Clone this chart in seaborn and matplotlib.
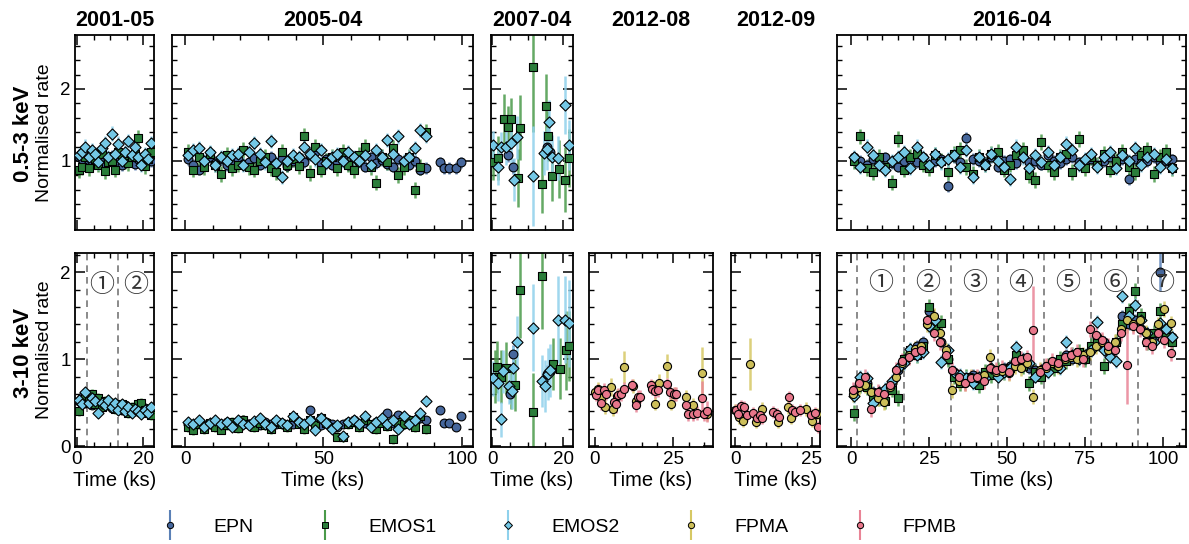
import numpy as np
import matplotlib
matplotlib.use("Agg")
import matplotlib.pyplot as plt
from matplotlib.ticker import FixedLocator, MultipleLocator, NullFormatter
from matplotlib.container import ErrorbarContainer
from matplotlib.legend_handler import HandlerErrorbar
import seaborn as sns

# ---------------- DATA ----------------
EPOCHS = ["2001-05", "2005-04", "2007-04", "2012-08", "2012-09", "2016-04"]
INSTRUMENTS = ["EPN", "EMOS1", "EMOS2", "FPMA", "FPMB"]

# 2001-05
T01 = [0.5,1.5,2.5,3.5,4.5,5.5,6.5,7.5,8.5,9.5,10.5,11.5,12.5,13.5,14.5,15.5,16.5,17.5,18.5,19.5,20.5,21.5,22.5]
PN01_soft = [1.05,1.02,1.08,1.0,0.98,1.04,1.06,1.0,0.95,1.03,1.07,1.02,0.98,0.94,1.05,1.08,1.0,0.96,1.02,1.04,0.98,1.03,1.0]
M101_soft = [0.87,0.92,1.05,0.9,1.08,1.02,0.95,1.1,0.86,0.98,1.0,0.88,1.12,1.04,1.0,0.97,1.06,1.1,1.32,1.0,0.93,1.02,1.12]
M201_soft = [1.08,1.12,1.2,1.05,1.15,1.1,0.98,1.18,1.25,1.05,1.38,1.1,1.24,1.0,1.12,1.28,1.08,1.2,1.05,0.95,1.1,1.02,1.25]
PN01_hard = [0.52,0.56,0.5,0.54,0.47,0.51,0.49,0.45,0.5,0.47,0.44,0.48,0.45,0.42,0.47,0.44,0.41,0.45,0.43,0.4,0.44,0.41,0.43]
M101_hard = [0.4,0.5,0.58,0.52,0.6,0.48,0.55,0.45,0.52,0.47,0.5,0.43,0.46,0.49,0.42,0.38,0.45,0.4,0.48,0.5,0.42,0.38,0.36]
M201_hard = [0.53,0.48,0.62,0.5,0.55,0.52,0.38,0.5,0.47,0.53,0.45,0.5,0.42,0.48,0.4,0.45,0.38,0.43,0.4,0.37,0.42,0.38,0.45]

# 2005-04
T05 = [1,3,5,7,9,11,13,15,17,19,21,23,25,27,29,31,33,35,37,39,41,43,45,47,49,51,53,55,57,59,61,63,65,67,69,71,73,75,77,79,81,83,85,87]
PN05_soft = [1.02,0.95,0.88,1.0,1.05,0.97,1.02,0.94,1.0,1.03, 0.96,0.99,1.04,0.95,1.0,1.06,0.97,1.02,0.93,1.0,
             1.05,0.98,1.08,1.12,0.97,1.03,0.95,1.0,1.02,0.94, 1.04,0.99,0.92,1.05,0.97,1.01,0.96,0.92,1.03,0.98,
             0.95,1.0,0.88,0.9]
M105_soft = [1.12,0.88,1.05,0.92,1.1,0.95,0.82,1.08,0.9,0.95, 1.15,0.92,0.88,1.0,1.05,0.9,0.85,1.12,0.95,1.02,
             0.93,1.35,0.83,1.2,0.88,1.0,1.05,0.9,1.12,0.95, 0.87,1.08,1.2,0.92,0.7,1.05,0.98,1.18,0.8,0.92,
             1.05,0.6,0.92,1.4]
M205_soft = [1.08,1.15,1.18,1.0,1.12,0.95,1.05,1.0,1.08,1.1, 0.95,1.12,1.25,1.1,0.98,1.28,0.97,0.78,1.0,1.08,
             1.05,1.2,1.1,1.02,1.15,0.97,1.05,1.1,1.0,1.12, 1.05,1.0,1.08,0.95,1.15,1.05,1.29,1.1,1.34,1.0,
             1.05,1.18,1.43,1.35]
PN05_hard = [0.25,0.22,0.27,0.24,0.26,0.23,0.25,0.28,0.24,0.26, 0.3,0.25,0.27,0.24,0.28,0.26,0.25,0.27,0.24,0.26,
             0.28,0.25,0.41,0.27,0.24,0.28,0.26,0.22,0.25,0.28, 0.3,0.26,0.27,0.24,0.28,0.3,0.38,0.27,0.36,0.25,
             0.3,0.28,0.32,0.3]
M105_hard = [0.22,0.18,0.25,0.2,0.27,0.22,0.19,0.24,0.28,0.21, 0.3,0.25,0.22,0.27,0.24,0.2,0.28,0.25,0.22,0.33,
             0.26,0.2,0.3,0.24,0.32,0.27,0.22,0.11,0.1,0.25, 0.28,0.22,0.3,0.25,0.2,0.27,0.23,0.08,0.28,0.25,
             0.3,0.22,0.35,0.2]
M205_hard = [0.28,0.25,0.3,0.22,0.27,0.3,0.25,0.28,0.22,0.3, 0.26,0.24,0.29,0.32,0.26,0.22,0.3,0.27,0.24,0.35,
             0.28,0.25,0.3,0.18,0.32,0.27,0.2,0.24,0.12,0.28, 0.3,0.25,0.35,0.22,0.28,0.32,0.25,0.3,0.2,0.35,
             0.25,0.3,0.38,0.52]
T05_tail = [92, 93.5, 95.5, 98, 99.5]
PN05_tail_soft = [0.98, 0.9, 0.9, 0.9, 0.98]
PN05_tail_hard = [0.41, 0.27, 0.27, 0.22, 0.35]

# 2007-04
T07_PN_soft = [4.6, 6.0, 15.5, 16.4]
PN07_soft = [1.08, 0.92, 1.2, 1.12]
T07_M1_soft = [0.2,1.6,3.5,4.5,5.4,7.4,8.0,11.6,14.2,15.1,15.8,16.8,18.8,20.6,21.7]
M107_soft = [0.99,1.04,1.58,1.47,1.58,0.76,1.46,2.3,0.68,1.76,1.35,0.79,0.89,0.74,1.04]
E_M107_soft = [0.25,0.3,0.35,0.3,0.3,0.4,0.45,0.9,0.4,0.45,0.35,0.35,0.4,0.45,0.4]
T07_M2_soft = [0.4,1.8,2.6,3.9,5.2,6.2,7.1,11.6,14.5,15.4,16.0,16.8,18.7,20.6,21.8]
M207_soft = [1.22,0.92,1.2,1.2,1.25,0.74,1.33,0.79,1.11,1.17,1.54,1.06,1.04,1.78,1.22]
E_M207_soft = [0.2,0.25,0.2,0.25,0.3,0.3,0.3,0.7,0.3,0.3,0.3,0.3,0.3,0.4,0.35]
T07_PN_hard = [5.0, 5.9, 15.6, 16.5]
PN07_hard = [0.6, 1.06, 0.83, 0.88]
T07_M1_hard = [0.8,1.3,2.5,4.0,5.2,6.6,7.9,11.6,14.2,17.1,19.0,20.9,21.8]
M107_hard = [0.8,0.91,0.8,0.9,0.68,0.7,1.79,0.39,1.95,0.94,0.89,1.1,1.15]
E_M107_hard = [0.3,0.3,0.3,0.3,0.25,0.3,0.55,0.45,0.6,0.3,0.35,0.45,0.4]
T07_M2_hard = [0.4,1.8,2.5,3.2,4.9,5.5,5.9,7.0,11.6,14.2,14.9,15.8,16.3,18.7,20.5,21.8]
M207_hard = [0.78,0.72,0.31,0.86,0.69,0.63,0.9,1.2,1.36,0.75,0.69,0.83,0.87,1.45,1.45,1.41]
E_M207_hard = [0.2,0.2,0.2,0.25,0.2,0.2,0.25,0.3,0.5,0.3,0.3,0.3,0.3,0.5,0.5,0.5]

# 2012-08 (NuSTAR)
T12A = [0.0,1.0,1.8,3.1,5.3,5.9,7.0,9.2,12.3,13.2,18.6,19.1,20.4,23.0,24.3,25.5,29.2,31.3,34.2,35.8]
FPMA12 = [0.62,0.66,0.55,0.45,0.68,0.43,0.58,0.91,0.69,0.52,0.68,0.49,0.73,0.92,0.49,0.6,0.57,0.47,0.84,0.37]
E_FPMA12 = [0.07,0.08,0.07,0.08,0.1,0.08,0.08,0.18,0.08,0.08,0.08,0.08,0.1,0.14,0.08,0.08,0.08,0.08,0.3,0.08]
T12B = [0.2,1.1,2.1,2.9,3.6,6.0,6.6,7.4,8.5,9.2,12.0,13.2,13.8,14.3,17.8,18.4,19.2,20.2,23.1,24.0,25.3,26.1,29.3,29.9,31.3,32.6,34.2,35.0,36.0]
FPMB12 = [0.59,0.64,0.5,0.65,0.6,0.51,0.48,0.59,0.6,0.66,0.7,0.47,0.57,0.57,0.7,0.66,0.63,0.65,0.71,0.62,0.6,0.6,0.47,0.37,0.37,0.38,0.55,0.37,0.4]
E_FPMB12 = [0.07,0.07,0.08,0.08,0.07,0.08,0.1,0.08,0.08,0.08,0.07,0.08,0.08,0.07,0.07,0.07,0.08,0.08,0.07,0.08,0.08,0.08,0.08,0.08,0.08,0.08,0.2,0.08,0.12]

# 2012-09 (NuSTAR)
T09A = [0.1,1.3,2.7,4.8,6.8,8.9,14.0,17.2,18.1,23.2,24.9,26.5]
FPMA09 = [0.41,0.33,0.29,0.94,0.28,0.43,0.28,0.45,0.32,0.43,0.29,0.37]
E_FPMA09 = [0.07,0.07,0.07,0.3,0.07,0.08,0.07,0.08,0.07,0.08,0.07,0.07]
T09B = [0.3,1.1,2.0,2.8,3.8,5.9,7.0,8.1,8.8,12.4,13.5,14.3,17.5,18.6,19.5,21.1,24.7,26.0,26.8]
FPMB09 = [0.42,0.37,0.46,0.45,0.36,0.38,0.32,0.36,0.32,0.39,0.37,0.33,0.56,0.41,0.39,0.42,0.36,0.38,0.22]

# 2016-04
T16 = [1,3,5,7,9,11,13,15,17,19,21,23,25,27,29,31,33,35,37,39,41,43,45,47,49,51,
       53,55,57,59,61,63,65,67,69,71,73,75,77,79,81,83,85,87,89,91,93,95,97,99,101,103]
T16_NU = [0.5,2.5,4.5,6.5,8.5,10.5,12.5,14.5,16.5,18.5,20.5,22.5,24.5,26.5,28.5,30.5,32.5,34.5,36.5,38.5,
          40.5,42.5,44.5,46.5,48.5,50.5,52.5,54.5,56.5,58.5,60.5,62.5,64.5,66.5,68.5,70.5,72.5,74.5,76.5,78.5,
          80.5,82.5,84.5,86.5,88.5,90.5,92.5,94.5,96.5,98.5,100.5,102.5]
PN16_soft = [1.05,1.0,0.95,1.02,0.98,1.05,0.97,0.92,1.0,1.03, 0.98,1.05,0.95,1.0,1.02,0.65,1.05,0.98,1.32,1.03,
             1.0,0.97,1.05,0.92,1.0,1.02,0.97,1.05,0.98,1.0, 0.95,1.08,1.0,0.97,1.03,1.05,0.98,1.0,1.02,0.95,
             1.0,1.05,0.98,1.02,0.75,1.02,0.97,1.0,1.05,0.98, 1.0,1.02]
M116_soft = [1.0,1.34,0.9,0.85,1.05,0.92,0.7,1.3,0.88,1.05, 1.1,0.95,0.9,1.08,1.0,0.85,1.1,1.15,0.92,0.82,
             1.05,0.95,1.1,1.12,0.88,0.95,1.08,1.15,0.8,0.73, 1.26,0.95,0.85,1.05,1.1,0.85,1.3,0.9,1.05,0.95,
             1.1,0.88,1.0,1.12,0.92,0.85,1.08,1.15,0.82,1.05, 1.12,0.9]
M216_soft = [1.05,0.92,1.2,1.08,0.95,0.88,1.0,1.05,1.12,0.9, 1.2,1.05,0.95,1.1,0.98,1.02,1.08,0.92,1.15,0.78,
             1.05,0.95,1.1,1.0,0.92,0.75,1.2,1.05,0.9,1.08, 0.98,1.12,0.95,1.05,1.24,1.15,0.95,1.02,1.1,0.92,
             1.05,1.12,0.9,1.08,1.0,1.18,0.95,1.05,1.1,0.92, 1.02,0.9]
PN16_hard = [0.65,0.75,0.72,0.62,0.58,0.63,0.72,0.88,1.0,1.05, 1.15,1.2,1.55,1.35,1.2,1.0,0.85,0.8,0.78,0.82,
             0.75,0.82,0.88,0.85,0.9,0.92,1.0,0.95,0.9,0.88, 0.82,0.9,0.95,0.98,1.05,1.0,1.05,1.0,1.1,1.25,
             1.2,1.05,1.2,1.5,1.4,1.45,1.35,1.3,1.25,2.0, 1.3,1.25]
M116_hard = [0.38,0.7,0.68,0.58,0.55,0.52,0.65,0.55,1.0,1.1, 1.05,1.15,1.6,1.38,1.42,1.0,0.8,0.72,0.8,0.75,
             0.7,0.85,0.82,0.88,0.85,0.9,1.05,0.92,0.72,0.85, 0.8,0.92,0.9,1.0,0.98,1.05,1.08,1.0,1.15,1.18,
             0.92,1.1,1.2,1.4,1.55,1.78,1.5,1.2,1.3,1.55, 1.25,1.2]
M216_hard = [0.58,0.8,0.78,0.5,0.62,0.66,0.75,0.9,0.95,1.12, 1.05,1.08,1.38,1.45,0.97,1.1,0.85,0.82,0.78,0.72,
             0.8,0.78,0.9,0.8,0.85,0.9,1.14,1.0,0.95,0.8, 0.88,0.85,0.95,0.9,1.2,1.05,1.0,1.05,1.1,1.43,
             1.1,1.03,0.98,1.72,1.5,1.62,1.45,1.3,1.2,1.41, 1.35,1.25]
FPMA16 = [0.6,0.68,0.7,0.62,0.55,0.51,0.68,0.8,0.95,1.05, 1.12,1.15,1.4,1.5,1.3,1.1,0.64,0.75,0.72,0.8,
          0.78,0.82,1.03,0.85,0.86,0.84,0.92,0.9,0.95,0.57, 0.88,0.9,0.95,0.92,1.0,1.02,1.0,1.05,1.08,1.15,
          1.2,1.1,1.2,1.35,1.45,1.4,1.45,1.3,1.2,1.4, 1.58,1.41]
FPMB16 = [0.65,0.72,0.8,0.43,0.62,0.6,0.7,0.88,0.98,1.02, 1.08,1.1,1.45,1.3,1.2,1.05,0.88,0.8,0.72,0.78,
          0.8,0.75,0.9,0.88,0.9,0.85,0.98,1.0,1.02,1.34, 0.85,0.92,0.98,0.95,1.02,1.05,1.08,1.0,1.35,1.28,
          1.22,1.15,1.1,1.3,0.93,1.38,1.35,1.2,1.15,1.3, 1.22,1.07]

# typical 1-sigma errors per instrument and band, plus individual large ones
ERR_SOFT = {"EPN": 0.08, "EMOS1": 0.11, "EMOS2": 0.1}
ERR_HARD_XMM = {"EPN": 0.045, "EMOS1": 0.055, "EMOS2": 0.05}
ERR_2016_HARD = {"EPN": 0.07, "EMOS1": 0.09, "EMOS2": 0.08, "FPMA": 0.09, "FPMB": 0.09}
ERR_2016_BIG = {"EPN": {49: 0.22}, "FPMA": {44: 0.15}, "FPMB": {29: 0.5, 44: 0.45}}
ERR_FPMB09 = 0.07

PHASES_2001 = [3.0, 12.5]
PHASES_2016 = [2, 17, 32, 47, 62, 77, 92]
PHASE_LABELS_2001 = ["①", "②"]
PHASE_LABELS_2016 = ["①", "②", "③", "④", "⑤", "⑥", "⑦"]
PHASE_LABEL_X_2001 = [7.6, 17.6]
PHASE_LABEL_X_2016 = [9.5, 24.5, 39.5, 54.5, 69.5, 84.5, 99.5]

# ---------------- STYLE ----------------
sns.set_theme(style="ticks")
plt.rcParams["font.family"] = ["Liberation Sans", "DejaVu Sans"]
for k in ["text.color", "axes.labelcolor", "xtick.color", "ytick.color", "axes.edgecolor"]:
    plt.rcParams[k] = "black"

STYLE = {
    "EPN":   dict(marker="o", s=40, face="#46679c", ecolor="#5a80b6"),
    "EMOS1": dict(marker="s", s=36, face="#2a7d3a", ecolor="#4a9a4a"),
    "EMOS2": dict(marker="D", s=32, face="#74c8e6", ecolor="#8fd1ec"),
    "FPMA":  dict(marker="o", s=34, face="#cdbf5a", ecolor="#d6c864"),
    "FPMB":  dict(marker="o", s=34, face="#e8768a", ecolor="#e98496"),
}

W, H = 1189, 544
fig = plt.figure(figsize=(W / 100, H / 100), dpi=100)

COLS = [(75, 154), (172, 473), (491, 573), (589, 713), (731, 820), (837, 1186)]
ROW_TOP = (35, 230)
ROW_BOT = (253, 447)
XLIMS = [(-0.6, 23.3), (-4.7, 104), (-0.3, 22.8), (-1.9, 37.8), (-1.3, 27.6), (-4.5, 107.4)]
XMAJ = [[0, 20], [0, 50, 100], [0, 20], [0, 25], [0, 25], [0, 25, 50, 75, 100]]
XMIN = [5, 10, 5, 5, 5, 5]


def make_ax(col, row):
    l, r = COLS[col]
    t, b = ROW_TOP if row == 0 else ROW_BOT
    ax = fig.add_axes([l / W, 1 - b / H, (r - l) / W, (b - t) / H])
    ax.set_xlim(*XLIMS[col])
    if row == 0:
        ax.set_ylim(0.04, 2.75)
        ax.yaxis.set_major_locator(FixedLocator([1, 2]))
    else:
        ax.set_ylim(-0.01, 2.22)
        ax.yaxis.set_major_locator(FixedLocator([0, 1, 2]))
    ax.yaxis.set_minor_locator(MultipleLocator(0.2))
    ax.xaxis.set_major_locator(FixedLocator(XMAJ[col]))
    ax.xaxis.set_minor_locator(MultipleLocator(XMIN[col]))
    ax.tick_params(which="both", direction="in", top=True, right=True, labelsize=13.5, pad=3,
                   labelcolor="black")
    ax.tick_params(which="major", length=7, width=1.1, color="black")
    ax.tick_params(which="minor", length=3.5, width=1.0, color="black")
    for sp in ax.spines.values():
        sp.set_linewidth(1.3)
        sp.set_color("black")
    if col != 0:
        ax.yaxis.set_major_formatter(NullFormatter())
    if row == 0:
        ax.xaxis.set_major_formatter(NullFormatter())
    else:
        ax.set_xlabel("Time (ks)", fontsize=14.5, labelpad=2, color="black")
    ax.grid(False)
    return ax


def draw(ax, t, y, err, inst, big=None):
    st = STYLE[inst]
    e = np.full(len(y), float(err)) if np.isscalar(err) else np.asarray(err, float)
    if big:
        for k, v in big.items():
            e[k] = v
    ax.errorbar(t, y, yerr=e, fmt="none", ecolor=st["ecolor"], elinewidth=1.8,
                capsize=0, alpha=0.85, zorder=2)
    sns.scatterplot(x=np.asarray(t, float), y=np.asarray(y, float), ax=ax, marker=st["marker"],
                    s=st["s"], color=st["face"], edgecolor="black", linewidth=0.8,
                    zorder=3, legend=False)


def phases(ax, xs, labels, lx, ly):
    for x in xs:
        ax.axvline(x, color="#777777", lw=1.2, ls=(0, (4, 3)), zorder=1)
    for x, s in zip(lx, labels):
        ax.text(x, ly, s, ha="center", va="center", fontsize=18, color="#333333",
                family=["Noto Sans CJK JP", "DejaVu Sans"], zorder=4)


# top row
a = make_ax(0, 0)
draw(a, T01, PN01_soft, ERR_SOFT["EPN"], "EPN")
draw(a, T01, M101_soft, ERR_SOFT["EMOS1"], "EMOS1")
draw(a, T01, M201_soft, ERR_SOFT["EMOS2"], "EMOS2")
ax_first = a

a = make_ax(1, 0)
draw(a, T05 + T05_tail, PN05_soft + PN05_tail_soft, ERR_SOFT["EPN"], "EPN")
draw(a, T05, M105_soft, ERR_SOFT["EMOS1"], "EMOS1")
draw(a, T05, M205_soft, ERR_SOFT["EMOS2"], "EMOS2")

a = make_ax(2, 0)
draw(a, T07_PN_soft, PN07_soft, 0.1, "EPN")
draw(a, T07_M1_soft, M107_soft, E_M107_soft, "EMOS1")
draw(a, T07_M2_soft, M207_soft, E_M207_soft, "EMOS2")

a = make_ax(5, 0)
draw(a, T16, PN16_soft, ERR_SOFT["EPN"], "EPN")
draw(a, T16, M116_soft, ERR_SOFT["EMOS1"], "EMOS1")
draw(a, T16, M216_soft, ERR_SOFT["EMOS2"], "EMOS2")

# bottom row
a = make_ax(0, 1)
phases(a, PHASES_2001, PHASE_LABELS_2001, PHASE_LABEL_X_2001, 1.85)
draw(a, T01, PN01_hard, ERR_HARD_XMM["EPN"], "EPN")
draw(a, T01, M101_hard, ERR_HARD_XMM["EMOS1"], "EMOS1")
draw(a, T01, M201_hard, ERR_HARD_XMM["EMOS2"], "EMOS2")

a = make_ax(1, 1)
draw(a, T05 + T05_tail, PN05_hard + PN05_tail_hard, ERR_HARD_XMM["EPN"], "EPN")
draw(a, T05, M105_hard, ERR_HARD_XMM["EMOS1"], "EMOS1")
draw(a, T05, M205_hard, ERR_HARD_XMM["EMOS2"], "EMOS2")

a = make_ax(2, 1)
draw(a, T07_PN_hard, PN07_hard, 0.1, "EPN")
draw(a, T07_M1_hard, M107_hard, E_M107_hard, "EMOS1")
draw(a, T07_M2_hard, M207_hard, E_M207_hard, "EMOS2")

a = make_ax(3, 1)
draw(a, T12A, FPMA12, E_FPMA12, "FPMA")
draw(a, T12B, FPMB12, E_FPMB12, "FPMB")

a = make_ax(4, 1)
draw(a, T09A, FPMA09, E_FPMA09, "FPMA")
draw(a, T09B, FPMB09, ERR_FPMB09, "FPMB")

a = make_ax(5, 1)
phases(a, PHASES_2016, PHASE_LABELS_2016, PHASE_LABEL_X_2016, 1.87)
draw(a, T16, PN16_hard, ERR_2016_HARD["EPN"], "EPN", ERR_2016_BIG["EPN"])
draw(a, T16, M116_hard, ERR_2016_HARD["EMOS1"], "EMOS1")
draw(a, T16, M216_hard, ERR_2016_HARD["EMOS2"], "EMOS2")
draw(a, T16_NU, FPMA16, ERR_2016_HARD["FPMA"], "FPMA", ERR_2016_BIG["FPMA"])
draw(a, T16_NU, FPMB16, ERR_2016_HARD["FPMB"], "FPMB", ERR_2016_BIG["FPMB"])

# titles
for (l, r), name in zip(COLS, EPOCHS):
    fig.text((l + r) / 2 / W, 1 - 20 / H, name, ha="center", va="center",
             fontsize=15.5, fontweight="bold")

# row labels
fig.text(24 / W, 1 - 134 / H, "0.5-3 keV", rotation=90, ha="center", va="center",
         fontsize=16, fontweight="bold")
fig.text(45 / W, 1 - 133 / H, "Normalised rate", rotation=90, ha="center", va="center", fontsize=14)
fig.text(24 / W, 1 - 353 / H, "3-10 keV", rotation=90, ha="center", va="center",
         fontsize=16, fontweight="bold")
fig.text(45 / W, 1 - 350 / H, "Normalised rate", rotation=90, ha="center", va="center", fontsize=14)

# legend
handles = []
for inst in INSTRUMENTS:
    st = STYLE[inst]
    h = ax_first.errorbar([np.nan], [np.nan], yerr=[0.1], fmt=st["marker"], ms=4.5,
                          mfc=st["face"], mec="black", mew=0.7, ecolor=st["ecolor"],
                          elinewidth=1.5, capsize=0)
    handles.append(h)
fig.legend(handles, INSTRUMENTS, ncol=5, loc="center", bbox_to_anchor=(554 / W, 1 - 527 / H),
           frameon=False, fontsize=14, handlelength=2.0, handletextpad=1.2, columnspacing=2.7,
           handler_map={ErrorbarContainer: HandlerErrorbar(xerr_size=0.5, yerr_size=0.75)})

fig.savefig("out.png", dpi=100)
